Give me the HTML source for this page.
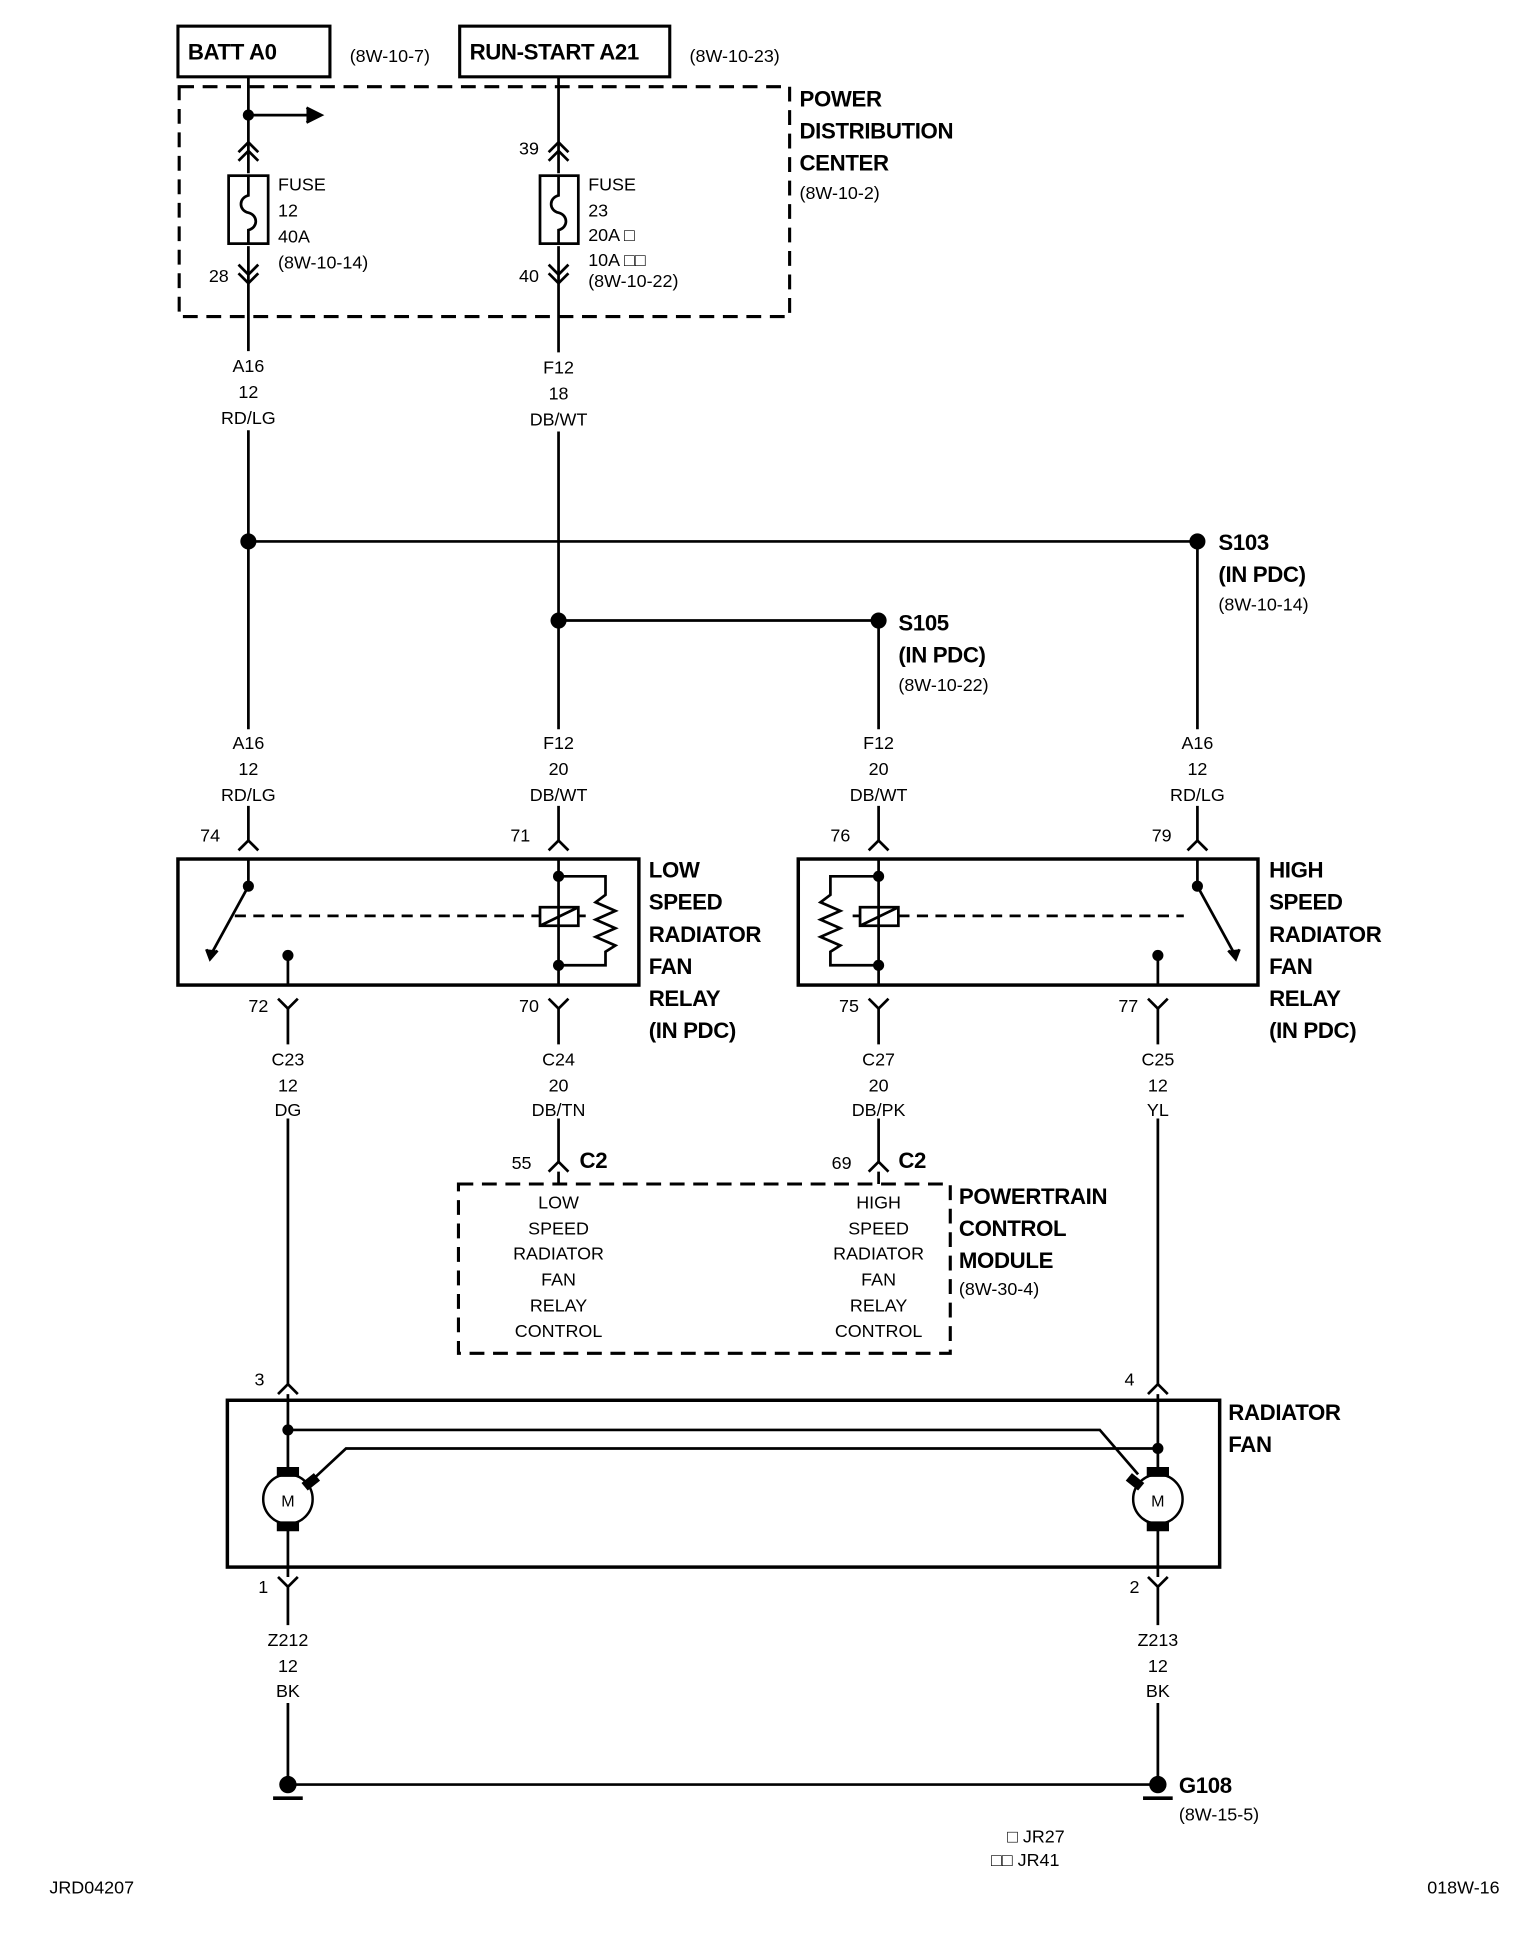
<!DOCTYPE html>
<html><head><meta charset="utf-8"><style>
html,body{margin:0;padding:0;background:#fff}
svg{display:block}
text{font-family:"Liberation Sans",sans-serif;fill:#000}
.s{font-size:14.5px}
.b{font-size:18px;font-weight:bold;letter-spacing:-0.3px}
.m{text-anchor:middle}
</style></head><body>
<svg width="1536" height="1938" viewBox="0 0 1243 1568" xmlns="http://www.w3.org/2000/svg">
<g stroke="#000" stroke-width="2.2" fill="none">
<rect x="144" y="21" width="123" height="41" stroke-width="2.5"/>
<rect x="372" y="21" width="170" height="41" stroke-width="2.5"/>
<rect x="145" y="70" width="494" height="186" stroke-dasharray="12,7" stroke-width="2.5"/>
<!-- left fuse wire -->
<path d="M201 62V140M201 199V284M201 348V590M201 652V680"/>
<path d="M201 93H255"/><path d="M248 87L260 93L248 99" fill="#000"/>
<path d="M193 123L201 115L209 123M193 130L201 122L209 130"/>
<rect x="185" y="142" width="32" height="55"/>
<path d="M201 142V158C193 160 193 170 201 172C209 174 209 184 201 186V197"/>
<path d="M193 214L201 222L209 214M193 221L201 229L209 221"/>
<!-- middle fuse wire -->
<path d="M452 62V140M452 199V285M452 349V590M452 652V680"/>
<path d="M444 123L452 115L460 123M444 130L452 122L460 130"/>
<rect x="437" y="142" width="31" height="55"/>
<path d="M452 142V158C444 160 444 170 452 172C460 174 460 184 452 186V197"/>
<path d="M444 214L452 222L460 214M444 221L452 229L460 221"/>
<!-- splices -->
<path d="M201 438H969M969 438V590M969 652V680M452 502H711V590M711 652V680"/>
<path d="M193 688L201 680L209 688M444 688L452 680L460 688M703 688L711 680L719 688M961 688L969 680L977 688"/>
<rect x="144" y="695" width="373" height="102" stroke-width="2.8"/>
<rect x="646" y="695" width="372" height="102" stroke-width="2.8"/>
<path d="M201 695V717M201 717L172 770M233 773V797"/>
<path d="M167 768L170 776L176 769" fill="#000"/>
<path d="M190 741H437M468 741H474" stroke-dasharray="9,6"/>
<path d="M452 695V797M452 709H490V724L482 730L498 737L482 744L498 751L482 758L498 765L490 770V781H452"/>
<rect x="437" y="734" width="31" height="15"/><path d="M437 749L468 734"/>
<path d="M969 695V717M969 717L998 770M937 773V797"/>
<path d="M994 769L1000 776L1003 768" fill="#000"/>
<path d="M727 741H958M690 741H696" stroke-dasharray="9,6"/>
<path d="M711 695V797M711 709H672V724L664 730L680 737L664 744L680 751L664 758L680 765L672 770V781H711"/>
<rect x="696" y="734" width="31" height="15"/><path d="M696 749L727 734"/>
<path d="M225 808L233 816L241 808M444 808L452 816L460 808M703 808L711 816L719 808M929 808L937 816L945 808"/>
<path d="M233 816V845M452 816V845M711 816V845M937 816V845"/>
<path d="M233 905V1120M937 905V1120M452 905V940M711 905V940"/>
<path d="M444 948L452 940L460 948M703 948L711 940L719 948M452 948V958M711 948V958"/>
<rect x="371" y="958" width="398" height="137" stroke-dasharray="12,7" stroke-width="2.5"/>
<path d="M225 1128L233 1120L241 1128M929 1128L937 1120L945 1128"/>
<rect x="184" y="1133" width="803" height="135" stroke-width="2.8"/>
<path d="M233 1128V1193M233 1157H890L921 1193M937 1128V1193M937 1172H280L250 1200"/>
<circle cx="233" cy="1213" r="20" stroke-width="2"/>
<circle cx="937" cy="1213" r="20" stroke-width="2"/>
<path d="M233 1233V1276M937 1233V1276"/>
<path d="M225 1276L233 1284L241 1276M929 1276L937 1284L945 1276M233 1284V1315M937 1284V1315"/>
<path d="M233 1378V1440M937 1378V1440M233 1444H937"/>
<path d="M221 1455H245M925 1455H949" stroke-width="3"/>
</g>
<g fill="#000">
<circle cx="201" cy="93" r="4.5"/>
<circle cx="201" cy="438" r="6.5"/><circle cx="969" cy="438" r="6.5"/>
<circle cx="452" cy="502" r="6.5"/><circle cx="711" cy="502" r="6.5"/>
<circle cx="201" cy="717" r="4.5"/><circle cx="233" cy="773" r="4.5"/>
<circle cx="452" cy="709" r="4.5"/><circle cx="452" cy="781" r="4.5"/>
<circle cx="969" cy="717" r="4.5"/><circle cx="937" cy="773" r="4.5"/>
<circle cx="711" cy="709" r="4.5"/><circle cx="711" cy="781" r="4.5"/>
<circle cx="233" cy="1157" r="4.5"/><circle cx="937" cy="1172" r="4.5"/>
<rect x="224" y="1187" width="18" height="8"/><rect x="224" y="1231" width="18" height="8"/>
<rect x="928" y="1187" width="18" height="8"/><rect x="928" y="1231" width="18" height="8"/>
<path d="M244 1200L254 1192L259 1198L249 1206Z"/><path d="M926 1200L916 1192L911 1198L921 1206Z"/>
<circle cx="233" cy="1444" r="7"/><circle cx="937" cy="1444" r="7"/>
</g>
<text x="152" y="48" class="b">BATT A0</text>
<text x="283" y="50" class="s">(8W-10-7)</text>
<text x="380" y="48" class="b">RUN-START A21</text>
<text x="558" y="50" class="s">(8W-10-23)</text>
<text x="647" y="86" class="b">POWER</text>
<text x="647" y="112" class="b">DISTRIBUTION</text>
<text x="647" y="138" class="b">CENTER</text>
<text x="647" y="161" class="s">(8W-10-2)</text>
<text x="225" y="154" class="s">FUSE</text><text x="225" y="175" class="s">12</text>
<text x="225" y="196" class="s">40A</text><text x="225" y="217" class="s">(8W-10-14)</text>
<text x="169" y="228" class="s">28</text>
<text x="420" y="125" class="s">39</text><text x="420" y="228" class="s">40</text>
<text x="476" y="154" class="s">FUSE</text><text x="476" y="175" class="s">23</text>
<text x="476" y="195" class="s">20A □</text><text x="476" y="215" class="s">10A □□</text>
<text x="476" y="232" class="s">(8W-10-22)</text>
<text x="201" y="301" class="s m">A16</text><text x="201" y="322" class="s m">12</text><text x="201" y="343" class="s m">RD/LG</text>
<text x="452" y="302" class="s m">F12</text><text x="452" y="323" class="s m">18</text><text x="452" y="344" class="s m">DB/WT</text>
<text x="201" y="606" class="s m">A16</text><text x="201" y="627" class="s m">12</text><text x="201" y="648" class="s m">RD/LG</text>
<text x="452" y="606" class="s m">F12</text><text x="452" y="627" class="s m">20</text><text x="452" y="648" class="s m">DB/WT</text>
<text x="711" y="606" class="s m">F12</text><text x="711" y="627" class="s m">20</text><text x="711" y="648" class="s m">DB/WT</text>
<text x="969" y="606" class="s m">A16</text><text x="969" y="627" class="s m">12</text><text x="969" y="648" class="s m">RD/LG</text>
<text x="233" y="862" class="s m">C23</text><text x="233" y="883" class="s m">12</text><text x="233" y="903" class="s m">DG</text>
<text x="452" y="862" class="s m">C24</text><text x="452" y="883" class="s m">20</text><text x="452" y="903" class="s m">DB/TN</text>
<text x="711" y="862" class="s m">C27</text><text x="711" y="883" class="s m">20</text><text x="711" y="903" class="s m">DB/PK</text>
<text x="937" y="862" class="s m">C25</text><text x="937" y="883" class="s m">12</text><text x="937" y="903" class="s m">YL</text>
<text x="233" y="1332" class="s m">Z212</text><text x="233" y="1353" class="s m">12</text><text x="233" y="1373" class="s m">BK</text>
<text x="937" y="1332" class="s m">Z213</text><text x="937" y="1353" class="s m">12</text><text x="937" y="1373" class="s m">BK</text>
<text x="452" y="978" class="s m">LOW</text><text x="452" y="999" class="s m">SPEED</text><text x="452" y="1019" class="s m">RADIATOR</text>
<text x="452" y="1040" class="s m">FAN</text><text x="452" y="1061" class="s m">RELAY</text><text x="452" y="1082" class="s m">CONTROL</text>
<text x="711" y="978" class="s m">HIGH</text><text x="711" y="999" class="s m">SPEED</text><text x="711" y="1019" class="s m">RADIATOR</text>
<text x="711" y="1040" class="s m">FAN</text><text x="711" y="1061" class="s m">RELAY</text><text x="711" y="1082" class="s m">CONTROL</text>
<text x="986" y="445" class="b">S103</text><text x="986" y="471" class="b">(IN PDC)</text><text x="986" y="494" class="s">(8W-10-14)</text>
<text x="727" y="510" class="b">S105</text><text x="727" y="536" class="b">(IN PDC)</text><text x="727" y="559" class="s">(8W-10-22)</text>
<text x="162" y="681" class="s">74</text><text x="413" y="681" class="s">71</text>
<text x="672" y="681" class="s">76</text><text x="932" y="681" class="s">79</text>
<text x="525" y="710" class="b">LOW</text><text x="525" y="736" class="b">SPEED</text><text x="525" y="762" class="b">RADIATOR</text>
<text x="525" y="788" class="b">FAN</text><text x="525" y="814" class="b">RELAY</text><text x="525" y="840" class="b">(IN PDC)</text>
<text x="1027" y="710" class="b">HIGH</text><text x="1027" y="736" class="b">SPEED</text><text x="1027" y="762" class="b">RADIATOR</text>
<text x="1027" y="788" class="b">FAN</text><text x="1027" y="814" class="b">RELAY</text><text x="1027" y="840" class="b">(IN PDC)</text>
<text x="201" y="819" class="s">72</text><text x="420" y="819" class="s">70</text>
<text x="679" y="819" class="s">75</text><text x="905" y="819" class="s">77</text>
<text x="414" y="946" class="s">55</text><text x="469" y="945" class="b">C2</text>
<text x="673" y="946" class="s">69</text><text x="727" y="945" class="b">C2</text>
<text x="776" y="974" class="b">POWERTRAIN</text><text x="776" y="1000" class="b">CONTROL</text>
<text x="776" y="1026" class="b">MODULE</text><text x="776" y="1048" class="s">(8W-30-4)</text>
<text x="206" y="1121" class="s">3</text><text x="910" y="1121" class="s">4</text>
<text x="994" y="1149" class="b">RADIATOR</text><text x="994" y="1175" class="b">FAN</text>
<text x="233" y="1219" class="s m" style="font-size:13px">M</text>
<text x="937" y="1219" class="s m" style="font-size:13px">M</text>
<text x="209" y="1289" class="s">1</text><text x="914" y="1289" class="s">2</text>
<text x="954" y="1451" class="b">G108</text><text x="954" y="1473" class="s">(8W-15-5)</text>
<text x="815" y="1491" class="s">□ JR27</text><text x="802" y="1510" class="s">□□ JR41</text>
<text x="40" y="1532" class="s">JRD04207</text><text x="1155" y="1532" class="s">018W-16</text>
</svg>
</body></html>
